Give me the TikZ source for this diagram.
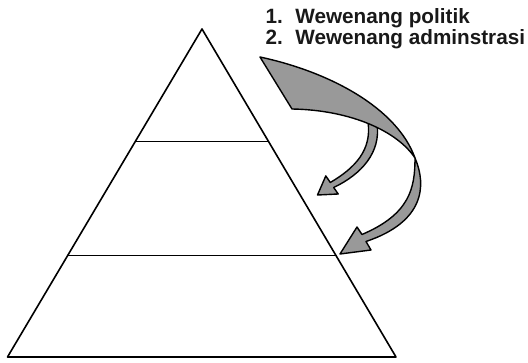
\documentclass[tikz,border=0pt]{standalone}
\usepackage{fontspec}
\setmainfont{Liberation Sans}
\begin{document}
\begin{tikzpicture}[x=1pt,y=-1pt,line join=round,
  edge/.style={draw=black,line width=1.6pt},
  ribbon/.style={draw=black,line width=1.4pt,fill=black!40},
  label/.style={anchor=base west,inner sep=0pt,font=\fontsize{20.7}{21}\selectfont\bfseries,text=black!90}]
\useasboundingbox (0,0) rectangle (528,363);
% pyramid
\coordinate (apex) at (202,29);
\coordinate (bl) at (7.5,357);
\coordinate (br) at (396,357);
\draw[edge] (apex) -- (bl) -- (br) -- cycle;
\draw[edge] (135.3,141.5) -- (268.5,141.5);
\draw[edge] (68,255.5) -- (335.9,255.5);
% small arrow
\draw[ribbon] (368,122) .. controls (372,150) and (355,168) .. (330.3,182.5)
  -- (325.8,175.9) -- (317.5,195) -- (338.2,194) -- (333.7,187.5)
  .. controls (362,174) and (381,152) .. (377,124) -- cycle;
% lower arrow
\coordinate (tw) at (415,158);
\draw[ribbon] (tw) .. controls (427,186) and (424,222) .. (366,241.5)
  -- (371,250) -- (340,254) -- (357,227) -- (362,234.5)
  .. controls (410,214) and (415,188) .. (tw) -- cycle;
% top ribbon
\draw[ribbon] (260,57) .. controls (330,72) and (397,108) .. (tw)
  .. controls (398,132) and (352,110) .. (292,109) -- cycle;
% labels
\node[label] (t1) at (265.3,23.3) {1.\hspace{12.6pt}Wewenang politik};
\node[label] (t2) at (265.3,44.3) {2.\hspace{12.6pt}Wewenang adminstrasi};
\end{tikzpicture}
\end{document}
